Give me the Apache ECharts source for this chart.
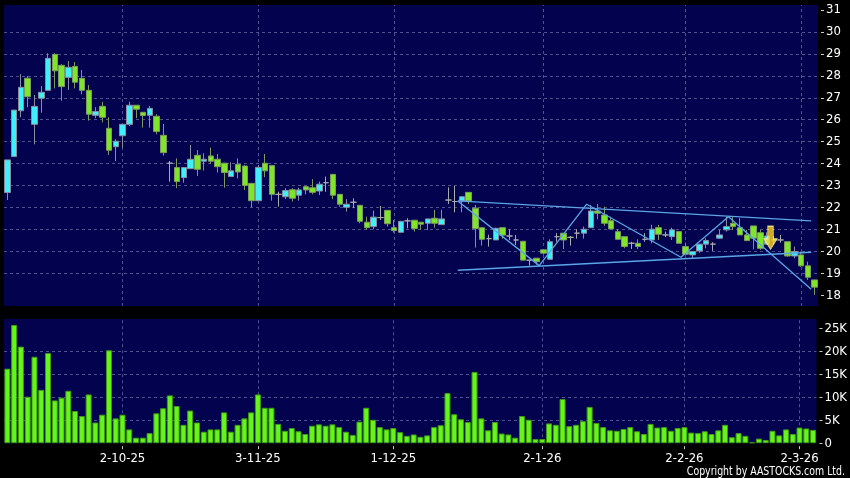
<!DOCTYPE html>
<html><head><meta charset="utf-8">
<script src="https://cdn.jsdelivr.net/npm/echarts@6/dist/echarts.min.js"></script>
<style>html,body{margin:0;padding:0;background:#000;}#c{width:850px;height:478px;}</style>
</head><body><div id="c"></div>
<script>
// ---- data ----
const tickIdx = [17, 37, 57, 79, 100, 117];
const tickLabels = ['2-10-25', '3-11-25', '1-12-25', '2-1-26', '2-2-26', '2-3-26'];
const priceTicks = [18,19,20,21,22,23,24,25,26,27,28,29,30,31];
const volTicks = [0,5,10,15,20,25];

const opens = [22.68,24.32,26.41,27.89,25.79,26.98,27.34,28.98,28.48,27.93,
28.43,27.89,27.34,26.20,26.61,25.61,24.77,25.27,25.79,26.66,
26.34,26.20,26.16,25.29,24.02,23.82,23.36,23.77,24.38,24.11,
24.35,24.20,24.02,23.41,23.97,23.89,23.10,22.31,24.02,23.91,
22.60,22.49,22.81,22.56,22.95,22.90,22.75,23.13,23.51,22.60,
22.01,22.24,22.10,21.33,21.13,21.54,21.87,21.08,20.87,21.39,
21.42,21.33,21.28,21.51,21.22,22.34,22.27,22.30,22.69,21.97,
21.08,20.58,20.52,21.08,20.70,20.52,20.46,19.60,19.69,20.07,
19.64,20.67,20.83,20.64,20.83,20.83,21.08,21.84,21.66,21.40,
20.90,20.67,20.37,20.37,20.55,20.52,21.08,20.75,20.67,20.90,
20.22,19.84,20.02,20.33,20.33,20.60,20.98,21.28,21.08,20.75,
21.16,20.85,20.33,20.52,20.52,20.44,19.79,19.84,19.34,18.70];
const closes = [24.17,26.44,27.48,27.05,26.61,27.25,28.80,28.23,27.51,28.39,
27.71,27.34,26.25,26.38,26.11,24.61,25.02,25.79,26.66,26.48,
26.19,26.52,25.46,24.50,24.02,23.18,23.82,24.20,23.74,24.20,
24.11,23.86,23.59,23.67,23.62,23.00,22.31,23.83,23.67,22.60,
22.60,22.77,22.42,22.80,22.80,22.69,23.06,23.13,22.56,22.15,
22.15,22.24,21.37,21.08,21.56,21.54,21.26,20.95,21.37,21.39,
21.04,21.24,21.48,21.28,21.48,22.34,22.27,22.49,22.30,21.04,
20.55,20.58,21.05,20.74,20.70,20.52,19.60,19.60,19.53,19.92,
20.44,20.67,20.52,20.64,20.83,21.01,21.84,21.74,21.28,21.02,
20.55,20.22,20.37,20.22,20.55,21.01,20.78,20.75,20.98,20.37,
19.87,19.99,20.33,20.49,20.33,20.75,21.13,21.13,20.75,20.49,
20.60,20.14,20.70,20.52,20.52,19.79,19.99,19.34,18.82,18.37];
const lows = [22.34,24.32,26.11,26.57,24.88,26.32,27.34,27.43,26.87,27.36,
27.43,27.16,25.96,26.07,25.88,24.39,24.12,24.73,25.72,26.07,
25.64,25.64,25.34,24.36,23.18,22.88,23.13,23.77,23.44,23.68,
23.98,23.59,22.90,23.41,23.33,22.80,22.01,22.31,23.38,22.31,
22.04,22.39,22.27,22.31,22.60,22.60,22.57,22.72,22.38,22.04,
21.81,21.97,21.28,20.98,21.01,21.43,21.13,20.85,20.87,21.05,
20.90,20.98,20.98,21.08,21.22,22.16,21.78,21.78,22.16,20.17,
20.26,20.22,20.52,20.58,20.52,20.29,19.60,19.35,19.40,19.85,
19.64,20.44,20.10,20.26,20.58,20.58,21.08,21.46,21.17,21.02,
20.55,20.14,20.11,20.10,20.44,20.37,20.52,20.65,20.52,20.37,
19.87,19.69,19.94,20.14,20.02,20.56,20.90,20.97,20.75,20.49,
20.10,20.07,20.30,20.29,20.40,19.76,19.69,19.30,18.70,18.02];
const highs = [24.17,26.44,28.08,27.99,27.13,27.54,29.03,29.03,28.53,28.68,
28.63,28.27,27.58,26.57,26.82,26.11,25.11,25.79,26.82,26.66,
26.34,26.63,26.25,25.81,24.12,24.24,23.82,24.85,24.62,24.47,
24.73,24.44,24.04,24.06,24.24,23.94,23.10,23.94,24.44,23.91,
22.72,22.88,22.88,22.90,22.98,23.29,23.18,23.41,23.51,22.60,
22.38,22.42,22.10,21.58,21.86,22.07,21.87,21.43,21.37,21.51,
21.42,21.33,21.48,21.89,21.89,22.92,22.98,22.49,22.69,22.12,
21.08,20.76,21.08,21.08,21.01,20.75,20.46,19.60,19.69,20.07,
20.55,20.83,20.83,20.70,21.01,21.13,22.12,22.16,22.04,21.58,
21.01,20.67,20.44,20.55,20.83,21.21,21.21,20.90,21.08,20.90,
20.40,19.99,20.33,20.60,20.42,20.98,21.58,21.56,21.51,20.98,
21.16,20.98,20.87,20.70,20.75,20.44,20.22,19.99,19.53,18.70];
// volume in thousands
const volumes = [16.2,25.7,21.0,10.1,18.8,11.6,19.6,9.3,9.9,11.4,
7.0,5.9,10.6,4.5,6.2,20.2,5.4,6.2,3.0,1.2,
1.2,2.2,6.5,7.6,10.4,8.1,4.0,7.1,4.5,2.5,
3.0,3.0,6.7,2.5,4.0,5.4,6.7,10.6,7.7,7.7,
4.2,2.7,3.3,2.6,2.0,3.8,4.1,3.8,4.1,3.5,
2.5,1.8,4.7,7.7,5.1,3.5,3.0,3.3,2.4,1.6,
1.9,1.4,1.7,3.5,3.9,10.9,6.3,5.2,4.6,15.5,
5.4,2.8,4.6,2.1,1.9,1.2,5.9,5.1,0.9,0.9,
4.3,4.0,9.6,3.7,4.0,4.8,7.9,4.4,3.5,2.8,
2.7,3.1,3.5,2.6,2.0,4.2,3.4,3.5,2.7,3.3,
3.5,2.3,2.2,2.6,2.0,2.8,4.0,1.3,2.2,1.6,
0.2,1.0,0.7,2.7,1.7,3.0,2.0,3.4,3.2,2.9];
// trend lines: [day index, price]
const upperLine = [[66.4, 22.30], [118.5, 21.39]];
const lowerLine = [[66.4, 19.14], [118.5, 19.96]];
const zigzag = [[66.4, 22.30], [78.4, 19.35], [85.4, 22.15], [99.3, 19.73], [106.3, 21.58], [118.5, 18.27]];
const signal = [[112.5, 20.62]];

// ---- chart ----
const FONT = 'DejaVu Sans Condensed';
const days = opens.map((_, i) => String(i));
const candleData = opens.map((o, i) => {
  const v = [o, closes[i], lows[i], highs[i]];
  if (o === closes[i]) {
    return { value: v, itemStyle: { color: '#aaaaaa', color0: '#aaaaaa', borderColor: '#aaaaaa', borderColor0: '#aaaaaa' } };
  }
  return v;
});
const isTick = (idx) => tickIdx.indexOf(Number(idx)) >= 0;
const dashStyle = { color: '#50508a', type: [3, 3], width: 1 };
const hLine = { show: true, showMinLine: false, showMaxLine: false, lineStyle: dashStyle };
const vMarks = {
  silent: true, symbol: ['none', 'none'], label: { show: false }, animation: false,
  lineStyle: dashStyle, emphasis: { disabled: true },
  data: tickIdx.map((i) => ({ xAxis: i }))
};
const noLine = { show: false, onZero: false };

const chart = echarts.init(document.getElementById('c'), null, { renderer: 'canvas' });
chart.setOption({
  animation: false,
  backgroundColor: '#000000',
  grid: [
    { left: 4, top: 5, width: 814, height: 301, show: true, backgroundColor: '#02024e', borderWidth: 0 },
    { left: 4, top: 319, width: 814, height: 124.2, show: true, backgroundColor: '#02024e', borderWidth: 0 }
  ],
  xAxis: [
    { type: 'category', gridIndex: 0, data: days, boundaryGap: true,
      axisLine: noLine, axisTick: { show: false }, axisLabel: { show: false }, splitLine: { show: false } },
    { type: 'category', gridIndex: 1, data: days, boundaryGap: true, offset: 3,
      axisLine: noLine,
      axisTick: { show: true, length: 3, alignWithLabel: true, interval: (i) => isTick(i), lineStyle: { color: '#cccccc' } },
      axisLabel: { show: true, interval: (i) => isTick(i), color: '#ffffff', fontSize: 13, fontFamily: FONT, margin: 6,
        formatter: (v) => { const k = tickIdx.indexOf(Number(v)); return k >= 0 ? tickLabels[k] : ''; } },
      splitLine: { show: false } },
    { type: 'value', gridIndex: 0, min: -0.5, max: opens.length - 0.5, show: false,
      axisLine: noLine, axisTick: { show: false }, axisLabel: { show: false }, splitLine: { show: false } }
  ],
  yAxis: [
    { type: 'value', gridIndex: 0, position: 'right', min: 17.51, max: 31.23, splitNumber: 14, offset: 3,
      axisLine: noLine,
      axisTick: { show: true, length: 3, customValues: priceTicks, lineStyle: { color: '#cccccc' } },
      axisLabel: { color: '#ffffff', fontSize: 13, fontFamily: FONT, margin: 5, customValues: priceTicks,
        formatter: (v) => priceTicks.indexOf(Math.round(v)) >= 0 && Math.abs(v - Math.round(v)) < 1e-6 ? String(Math.round(v)) : '' },
      splitLine: hLine },
    { type: 'value', gridIndex: 1, position: 'right', min: 0, max: 27, interval: 5, offset: 3,
      axisLine: noLine,
      axisTick: { show: true, length: 3, customValues: volTicks, lineStyle: { color: '#cccccc' } },
      axisLabel: { color: '#ffffff', fontSize: 13, fontFamily: FONT, margin: 5, customValues: volTicks,
        formatter: (v) => volTicks.indexOf(v) >= 0 ? (v === 0 ? '0' : v + 'K') : '' },
      splitLine: hLine }
  ],
  series: [
    { type: 'candlestick', xAxisIndex: 0, yAxisIndex: 0, data: candleData, barWidth: 6,
      itemStyle: { color: '#3ef0fa', color0: '#7ee52a', borderColor: '#8c8c9c', borderColor0: '#7c9c5c', borderWidth: 1 }, z: 2,
      markLine: Object.assign({ z: 1 }, vMarks) },
    { type: 'bar', xAxisIndex: 1, yAxisIndex: 1, data: volumes, barWidth: 6,
      itemStyle: { color: '#66f51a', borderColor: '#3f9a14', borderWidth: 1 },
      markLine: Object.assign({ z: 1 }, vMarks) },
    { type: 'line', xAxisIndex: 2, yAxisIndex: 0, data: upperLine, symbol: 'none', lineStyle: { color: '#5aa6e6', width: 1.3 }, z: 5 },
    { type: 'line', xAxisIndex: 2, yAxisIndex: 0, data: lowerLine, symbol: 'none', lineStyle: { color: '#5aa6e6', width: 1.3 }, z: 5 },
    { type: 'line', xAxisIndex: 2, yAxisIndex: 0, data: zigzag, symbol: 'none', lineStyle: { color: '#5aa6e6', width: 1.3 }, z: 5 },
    { type: 'scatter', xAxisIndex: 2, yAxisIndex: 0, data: signal,
      symbol: 'path://M4,0 L10,0 L10,12 L14,12 L7,22 L0,12 L4,12 Z', symbolSize: [13, 23],
      itemStyle: { color: '#ffd21f', borderColor: '#fff0a0', borderWidth: 1 }, z: 6 }
  ],
  graphic: [
    { type: 'text', x: 845, y: 472, scaleX: 0.87,
      style: { text: 'Copyright by AASTOCKS.com Ltd.', fill: '#ffffff', align: 'right', verticalAlign: 'middle',
        font: '12px "DejaVu Sans Condensed"' } }
  ]
});
</script></body></html>
